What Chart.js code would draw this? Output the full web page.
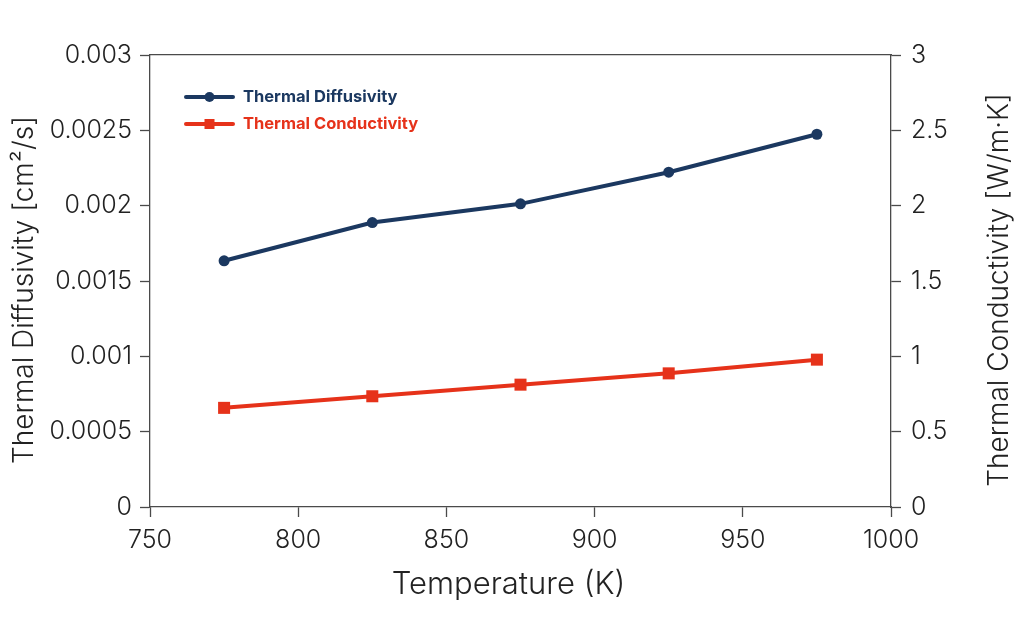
<!DOCTYPE html>
<html>
<head>
<meta charset="utf-8">
<script src="https://cdn.jsdelivr.net/npm/chart.js@4"></script>
<style>
  html, body { margin: 0; padding: 0; background: #ffffff; }
  #wrap { width: 1024px; height: 642px; position: relative; }
</style>
</head>
<body>
<div id="wrap"><canvas id="c" width="1024" height="642"></canvas></div>
<script>
const temperatures = [775, 825, 875, 925, 975];
const diffusivity = [0.001634, 0.001888, 0.002012, 0.002222, 0.002474];
const conductivity = [0.658, 0.735, 0.812, 0.887, 0.978];
const xTicks = [750, 800, 850, 900, 950, 1000];
const yLeftTicks = [0, 0.0005, 0.001, 0.0015, 0.002, 0.0025, 0.003];
const yRightTicks = [0, 0.5, 1, 1.5, 2, 2.5, 3];
const xTitle = 'Temperature (K)';
const yLeftTitle = 'Thermal Diffusivity [cm²/s]';
const yRightTitle = 'Thermal Conductivity [W/m·K]';

const NAVY = '#1b3860';
const RED = '#e6321a';
const AXIS = '#4a4a4a';
const TEXT = '#222222';
const FONT = 'Inter';

function pts(xs, ys) { return xs.map((x, i) => ({ x: x, y: ys[i] })); }

const legendPlugin = {
  id: 'lineLegend',
  afterDraw(chart) {
    const ctx = chart.ctx;
    const a = chart.chartArea;
    ctx.save();
    chart.data.datasets.forEach((ds, i) => {
      const x0 = a.left + 36, y = a.top + 42 + i * 27;
      ctx.strokeStyle = ds.borderColor;
      ctx.lineWidth = 4;
      ctx.lineCap = 'round';
      ctx.beginPath(); ctx.moveTo(x0, y); ctx.lineTo(x0 + 47, y); ctx.stroke();
      ctx.fillStyle = ds.borderColor;
      if (ds.pointStyle === 'rect') {
        ctx.fillRect(x0 + 23.5 - 5, y - 5, 10, 10);
      } else {
        ctx.beginPath(); ctx.arc(x0 + 23.5, y, 5, 0, Math.PI * 2); ctx.fill();
      }
      ctx.font = '700 16.5px ' + FONT;
      ctx.textBaseline = 'middle';
      ctx.textAlign = 'left';
      ctx.fillText(ds.label, x0 + 57, y + 0.5);
    });
    ctx.restore();
  }
};

// axis titles placed as in the reference (vertical ones read bottom-to-top)
const titlePlugin = {
  id: 'axisTitles',
  afterDraw(chart) {
    const ctx = chart.ctx;
    const a = chart.chartArea;
    const cy = (a.top + a.bottom) / 2 + 9;
    ctx.save();
    ctx.fillStyle = TEXT;
    ctx.textAlign = 'center';
    ctx.textBaseline = 'middle';
    ctx.font = '300 28px ' + FONT;
    [[25, yLeftTitle], [1000, yRightTitle]].forEach(([x, t]) => {
      ctx.save();
      ctx.translate(x, cy);
      ctx.rotate(-Math.PI / 2);
      ctx.fillText(t, 0, 0);
      ctx.restore();
    });
    ctx.font = '300 31px ' + FONT;
    ctx.fillText(xTitle, (a.left + a.right) / 2 - 12, a.bottom + 78);
    ctx.restore();
  }
};

const fmt = v => String(Number(v.toFixed(4)));
const tickFont = { family: FONT, size: 25, weight: 300 };

new Chart(document.getElementById('c'), {
  type: 'line',
  data: {
    datasets: [
      {
        label: 'Thermal Diffusivity',
        data: pts(temperatures, diffusivity),
        yAxisID: 'y',
        borderColor: NAVY, backgroundColor: NAVY,
        borderWidth: 4, pointStyle: 'circle', pointRadius: 5.5,
        pointBorderWidth: 0, tension: 0
      },
      {
        label: 'Thermal Conductivity',
        data: pts(temperatures, conductivity),
        yAxisID: 'y1',
        borderColor: RED, backgroundColor: RED,
        borderWidth: 4, pointStyle: 'rect', pointRadius: 8.5,
        pointBorderWidth: 0, tension: 0
      }
    ]
  },
  options: {
    responsive: false,
    animation: false,
    devicePixelRatio: 1,
    layout: { padding: { top: 55, left: 0, right: 0, bottom: 0 } },
    plugins: { legend: { display: false }, tooltip: { enabled: false } },
    scales: {
      x: {
        type: 'linear', position: 'bottom', min: 750, max: 1000,
        afterBuildTicks: s => { s.ticks = xTicks.map(v => ({ value: v })); },
        afterFit: s => { s.height = 135; },
        grid: { drawOnChartArea: false, drawTicks: true, tickLength: 10, tickColor: AXIS, tickWidth: 1.3 },
        border: { display: true, color: AXIS, width: 1.3 },
        ticks: { color: TEXT, font: tickFont, padding: 8, maxRotation: 0, callback: v => String(v) },
        title: { display: false }
      },
      xTop: {
        type: 'linear', position: 'top', min: 750, max: 1000,
        afterFit: s => { s.height = 0; },
        grid: { display: false, drawTicks: false },
        border: { display: true, color: AXIS, width: 1.3 },
        ticks: { display: false }
      },
      y: {
        type: 'linear', position: 'left', min: 0, max: 0.003,
        afterBuildTicks: s => { s.ticks = yLeftTicks.map(v => ({ value: v })); },
        afterFit: s => { s.width = 150; },
        grid: { drawOnChartArea: false, drawTicks: true, tickLength: 10, tickColor: AXIS, tickWidth: 1.3 },
        border: { display: true, color: AXIS, width: 1.3 },
        ticks: { color: TEXT, font: tickFont, padding: 8, callback: v => fmt(v) },
        title: { display: false }
      },
      y1: {
        type: 'linear', position: 'right', min: 0, max: 3,
        afterBuildTicks: s => { s.ticks = yRightTicks.map(v => ({ value: v })); },
        afterFit: s => { s.width = 133; },
        grid: { drawOnChartArea: false, drawTicks: true, tickLength: 10, tickColor: AXIS, tickWidth: 1.3 },
        border: { display: true, color: AXIS, width: 1.3 },
        ticks: { color: TEXT, font: tickFont, padding: 10, callback: v => fmt(v) },
        title: { display: false }
      }
    }
  },
  plugins: [legendPlugin, titlePlugin]
});
</script>
</body>
</html>
